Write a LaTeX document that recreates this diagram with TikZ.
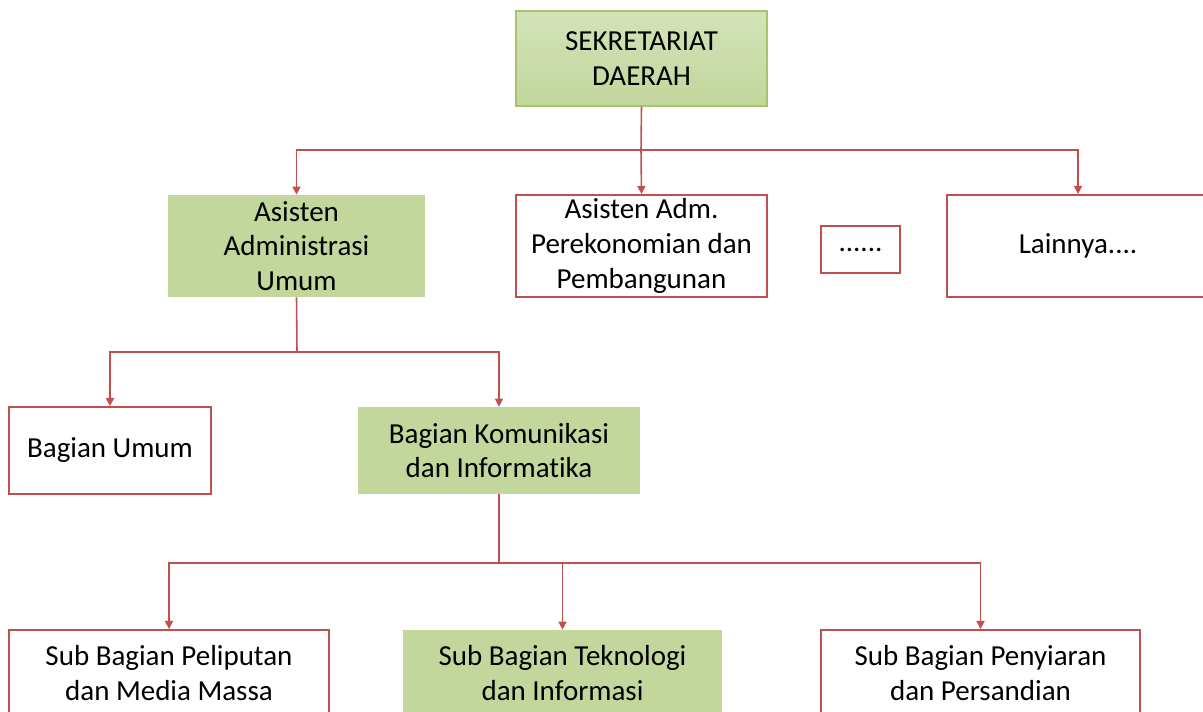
\documentclass[tikz,border=0pt]{standalone}
\usepackage{fontspec}
\setmainfont{Carlito}[Ligatures={NoCommon,NoRare}]
\usepackage{xcolor}
\usetikzlibrary{arrows.meta}
\definecolor{boxred}{HTML}{C0504D}
\definecolor{boxgreen}{HTML}{C3D69B}
\definecolor{toplight}{HTML}{D3E3B8}
\definecolor{topedge}{HTML}{A6C46C}

\begin{document}
\begin{tikzpicture}[
  x=0.02cm, y=-0.02cm,
  font=\fontsize{16.5}{19.8}\selectfont,
  % ---- node styles ----
  unitbox/.style={
    draw=boxred, line width=1.1pt, fill=white,
    align=center, inner sep=0pt
  },
  greenbox/.style={
    fill=boxgreen, align=center, inner sep=0pt
  },
  headbox/.style={
    draw=topedge, line width=0.8pt, top color=toplight, bottom color=boxgreen,
    align=center, inner sep=0pt
  },
  link/.style={draw=boxred, line width=0.9pt},
  linkarrow/.style={link, -{Triangle[width=4.6pt,length=4.6pt]}},
]
\clip (0,0) rectangle (1203,711);
\useasboundingbox (0,0) rectangle (1203,711);

% ---- Top ----
\node[headbox, minimum width=5.02cm, minimum height=1.9cm] (sekda) at (641.5,58.5)
  {SEKRETARIAT\\DAERAH};

% ---- Asisten level ----
\node[greenbox, minimum width=5.14cm, minimum height=2.04cm] (asum) at (296.5,246)
  {Asisten\\Administrasi\\Umum};
\node[unitbox, minimum width=5.02cm, minimum height=2.04cm] (asekbang) at (641.5,246)
  {Asisten Adm.\\Perekonomian dan\\Pembangunan};
\node[unitbox, minimum width=1.58cm, minimum height=0.94cm] (dots) at (860.5,249.5)
  {\raisebox{-0.25ex}{......}};
\node[unitbox, minimum width=5.24cm, minimum height=2.04cm] (lain) at (1078,246)
  {Lainnya....};

% ---- Bagian level ----
\node[unitbox, minimum width=4.04cm, minimum height=1.74cm] (bumum) at (110,450.5)
  {Bagian Umum};
\node[greenbox, minimum width=5.64cm, minimum height=1.74cm] (bkominfo) at (499,450.5)
  {Bagian Komunikasi\\dan Informatika};

% ---- Sub Bagian level ----
\node[unitbox, minimum width=6.4cm, minimum height=1.72cm] (sbliput) at (169,673)
  {Sub Bagian Peliputan\\dan Media Massa};
\node[greenbox, minimum width=6.38cm, minimum height=1.72cm] (sbtek) at (562.5,673)
  {Sub Bagian Teknologi\\dan Informasi};
\node[unitbox, minimum width=6.38cm, minimum height=1.72cm] (sbsiar) at (980.5,673)
  {Sub Bagian Penyiaran\\dan Persandian};

% ---- Junctions ----
\coordinate (j1) at (641,150);
\coordinate (j2) at (297,352);
\coordinate (j3) at (499,563);

% ---- Connectors ----
\draw[link] (sekda.south) -- (j1);
\draw[linkarrow] (j1) -| (asum.north);
\draw[linkarrow] (j1) -- (asekbang.north);
\draw[linkarrow] (j1) -| (lain.north);

\draw[link] (asum.south) -- (j2);
\draw[linkarrow] (j2) -| (bumum.north);
\draw[linkarrow] (j2) -| (bkominfo.north);

\draw[link] (bkominfo.south) -- (j3);
\draw[linkarrow] (j3) -| (sbliput.north);
\draw[linkarrow] (j3) -| (sbtek.north);
\draw[linkarrow] (j3) -| (sbsiar.north);

\end{tikzpicture}
\end{document}
